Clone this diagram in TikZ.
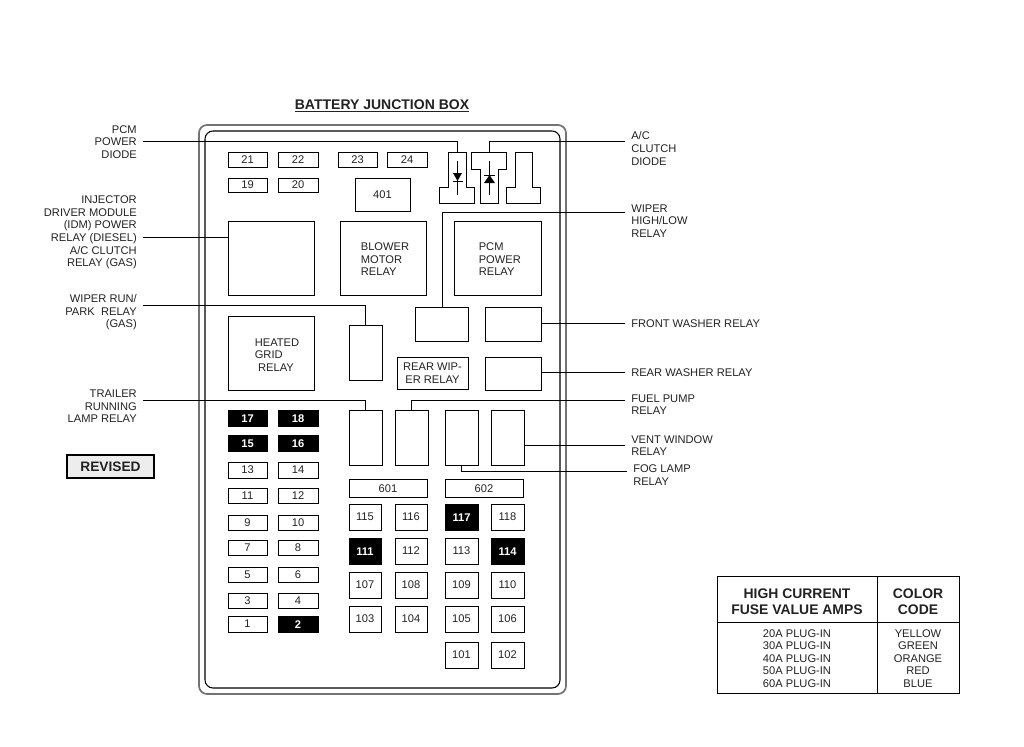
\documentclass[tikz,border=0pt]{standalone}
\usepackage{fontspec}
\setmainfont{Liberation Sans}
\definecolor{ink}{HTML}{222222}
\tikzset{
 tx/.style={/utils/exec={\def\bxs{#1}}},
 base/.style={draw=black,line width=0.6pt,inner sep=0pt,outer sep=0pt,text=ink,align=center,font=\fontsize{8.35}{9.4}\selectfont,tx=-1.0pt},
 blk/.style={fill=black,text=white,font=\fontsize{8.35}{9.4}\selectfont\bfseries,tx=-1.4pt},
 lab/.style={inner sep=4.5pt,text=ink,font=\fontsize{8.35}{9.4}\selectfont},
 labl/.style={lab,align=right,anchor=east},
 labr/.style={lab,align=left,anchor=west},
 wire/.style={line width=0.6pt,draw=black},
 outline/.style={line width=0.65pt,draw=black,line join=miter},
}
% name, x1, y1, x2, y2, style, text
\newcommand{\bx}[7]{%
 \pgfmathsetmacro{\bw}{(#4-#2)*0.75}\pgfmathsetmacro{\bh}{(#5-#3)*0.75}%
 \node[base,#6,minimum width=\bw pt,minimum height=\bh pt] (#1) at ({(#2+#4)/2},{(#3+#5)/2})
 {\raisebox{\bxs}[\height][\depth]{\begin{tabular}{@{}c@{}}#7\end{tabular}}};}
\begin{document}
\begin{tikzpicture}[x=0.75pt,y=-0.75pt]
\useasboundingbox (0,0) rectangle (1024,746);
\node[inner sep=0pt,font=\fontsize{10.5}{12}\selectfont\bfseries,text=ink] (title) at (382,106) {\underline{BATTERY JUNCTION BOX}};
\draw[draw=black!55,line width=1.3pt,rounded corners=6pt] (199,125) rectangle (566,694);
\draw[draw=black,line width=0.8pt,rounded corners=6pt] (205,131) rectangle (560,688);
\bx{f21}{228}{152}{267}{167}{}{21}\bx{f22}{278}{152}{318}{167}{}{22}
\bx{f23}{338}{152}{377}{167}{}{23}\bx{f24}{387}{152}{427}{167}{}{24}
\bx{f19}{228}{178}{267}{192}{}{19}\bx{f20}{278}{178}{318}{192}{}{20}
\bx{f401}{355}{178}{410}{211}{}{401}
\bx{idm}{228}{221}{314}{295}{}{}
\bx{blower}{340}{221}{426}{295}{tx=-1.9pt}{\begin{tabular}{@{\hspace{3pt}}l@{}}BLOWER\\MOTOR\\RELAY\end{tabular}}
\bx{pcmr}{454}{221}{541}{295}{tx=-2.2pt}{\begin{tabular}{@{\hspace{3.5pt}}l@{}}PCM\\POWER\\RELAY\end{tabular}}
\bx{heated}{228}{316}{314}{390}{tx=-2.6pt}{\begin{tabular}{@{\hspace{9pt}}l@{}}HEATED\\GRID\\\hspace{2.5pt}RELAY\end{tabular}}
\bx{wrun}{349}{325}{382}{380}{}{}
\bx{whigh}{415}{307}{468}{341}{}{}
\bx{fwash}{485}{307}{541}{341}{}{}
\bx{rwiper}{397}{357}{468}{389}{tx=-1.1pt}{REAR WIP-\\ER RELAY}
\bx{rwash}{485}{357}{541}{390}{}{}
\bx{trail}{349}{410}{382}{465}{}{}
\bx{fuel}{395}{410}{428}{465}{}{}
\bx{fog}{445}{410}{478}{465}{}{}
\bx{vent}{491}{410}{524}{465}{}{}
\bx{f17}{228}{410}{267}{426}{blk}{17}\bx{f18}{278}{410}{318}{426}{blk}{18}
\bx{f15}{228}{435}{267}{451}{blk}{15}\bx{f16}{278}{435}{318}{451}{blk}{16}
\bx{f13}{228}{462}{267}{478}{}{13}\bx{f14}{278}{462}{318}{478}{}{14}
\bx{f11}{228}{488}{267}{503}{}{11}\bx{f12}{278}{488}{318}{503}{}{12}
\bx{f9}{228}{515}{267}{530}{}{9}\bx{f10}{278}{515}{318}{530}{}{10}
\bx{f7}{228}{540}{267}{555}{}{7}\bx{f8}{278}{540}{318}{555}{}{8}
\bx{f5}{228}{567}{267}{582}{}{5}\bx{f6}{278}{567}{318}{582}{}{6}
\bx{f3}{228}{593}{267}{608}{}{3}\bx{f4}{278}{593}{318}{608}{}{4}
\bx{f1}{228}{616}{267}{632}{}{1}\bx{f2}{278}{616}{318}{632}{blk}{2}
\bx{f601}{349}{479}{427}{497}{tx=-1.2pt}{601}\bx{f602}{445}{479}{523}{497}{tx=-1.2pt}{602}
\bx{f115}{349}{504}{381}{530}{}{115}\bx{f116}{395}{504}{427}{530}{}{116}
\bx{f117}{445}{504}{478}{530}{blk}{117}\bx{f118}{491}{504}{524}{530}{}{118}
\bx{f111}{349}{538}{381}{564}{blk}{111}\bx{f112}{395}{538}{427}{564}{}{112}
\bx{f113}{445}{538}{478}{564}{}{113}\bx{f114}{491}{538}{524}{564}{blk}{114}
\bx{f107}{349}{572}{381}{598}{}{107}\bx{f108}{395}{572}{427}{598}{}{108}
\bx{f109}{445}{572}{478}{598}{}{109}\bx{f110}{491}{572}{524}{598}{}{110}
\bx{f103}{349}{606}{381}{632}{}{103}\bx{f104}{395}{606}{427}{632}{}{104}
\bx{f105}{445}{606}{478}{632}{}{105}\bx{f106}{491}{606}{524}{632}{}{106}
\bx{f101}{445}{642}{478}{668}{}{101}\bx{f102}{491}{642}{524}{668}{}{102}
\draw[outline] (448,152) -- (466,152) -- (466,187) -- (474,187) -- (474,203) -- (439,203) -- (439,187) -- (448,187) -- cycle;
\draw[outline] (471,152) -- (506,152) -- (506,169) -- (498,169) -- (498,203) -- (480,203) -- (480,169) -- (471,169) -- cycle;
\draw[outline] (515,152) -- (532,152) -- (532,187) -- (540,187) -- (540,203) -- (506,203) -- (506,187) -- (515,187) -- cycle;
\coordinate (dl) at (457,152);
\coordinate (dm) at (489,152);
\draw[wire] (457,161) -- (457,195);
\fill (453,173) -- (462,173) -- (457.5,181) -- cycle;
\draw[wire] (452.5,181) -- (462.5,181);
\draw[wire] (489,161) -- (489,195);
\fill (484,183) -- (495,183) -- (489.5,175) -- cycle;
\draw[wire] (484,175) -- (495,175);
\node[labl] (lpcm) at (143,142) {PCM\\POWER\\DIODE};
\node[labl] (lidm) at (143,232.5) {INJECTOR\\DRIVER MODULE\\(IDM) POWER\\RELAY (DIESEL)\\A/C CLUTCH\\RELAY (GAS)};
\node[labl] (lrun) at (143,312.5) {WIPER RUN/\\PARK\ \ RELAY\\(GAS)};
\node[labl] (ltrl) at (143,406.5) {TRAILER\\RUNNING\\LAMP RELAY};
\node[labr] (lac) at (625,148.5) {A/C\\CLUTCH\\DIODE};
\node[labr] (lhi) at (625,221) {WIPER\\HIGH/LOW\\RELAY};
\node[labr] (lfw) at (625,324) {FRONT WASHER RELAY};
\node[labr] (lrw) at (625,373) {REAR WASHER RELAY};
\node[labr] (lfp) at (625,404.5) {FUEL PUMP\\RELAY};
\node[labr] (lvw) at (625,445.5) {VENT WINDOW\\RELAY};
\node[labr] (lfg) at (627,475) {FOG LAMP\\RELAY};
\coordinate (idmin) at (228,237);
\draw[wire] (lpcm.east |- 0,141) -| (dl);
\draw[wire] (lidm.east |- idmin) -- (idmin);
\draw[wire] (lrun.east |- 0,305) -| (wrun.north);
\draw[wire] (ltrl.east |- 0,400) -| (trail.north);
\draw[wire] (lac.west |- 0,141) -| (dm);
\draw[wire] (lhi.west |- 0,212) -| (whigh.north -| 442,0);
\draw[wire] (lfw.west |- 0,323.5) -- (fwash.east |- 0,323.5);
\draw[wire] (lrw.west |- 0,372.5) -- (rwash.east |- 0,372.5);
\draw[wire] (lfp.west |- 0,400) -| (fuel.north);
\draw[wire] (lvw.west |- 0,445) -- (vent.east |- 0,445);
\draw[wire] (lfg.west |- 0,471) -| (fog.south);
\node[draw=black,line width=1.2pt,fill=black!7,inner sep=0pt,minimum width=65.2pt,minimum height=17.2pt,font=\fontsize{10.3}{12}\selectfont\bfseries,text=ink] (rev) at (110.5,466.5) {REVISED};
\bx{th1}{717}{576}{877}{622}{font=\fontsize{10.45}{12.5}\selectfont\bfseries,tx=-3.2pt}{HIGH CURRENT\\FUSE VALUE AMPS}
\bx{th2}{877}{576}{959}{622}{font=\fontsize{10.45}{12.5}\selectfont\bfseries,tx=-3.2pt}{COLOR\\CODE}
\bx{td1}{717}{622}{877}{693}{tx=-1.7pt}{20A PLUG-IN\\30A PLUG-IN\\40A PLUG-IN\\50A PLUG-IN\\60A PLUG-IN}
\bx{td2}{877}{622}{959}{693}{tx=-1.7pt}{YELLOW\\GREEN\\ORANGE\\RED\\BLUE}
\end{tikzpicture}
\end{document}
